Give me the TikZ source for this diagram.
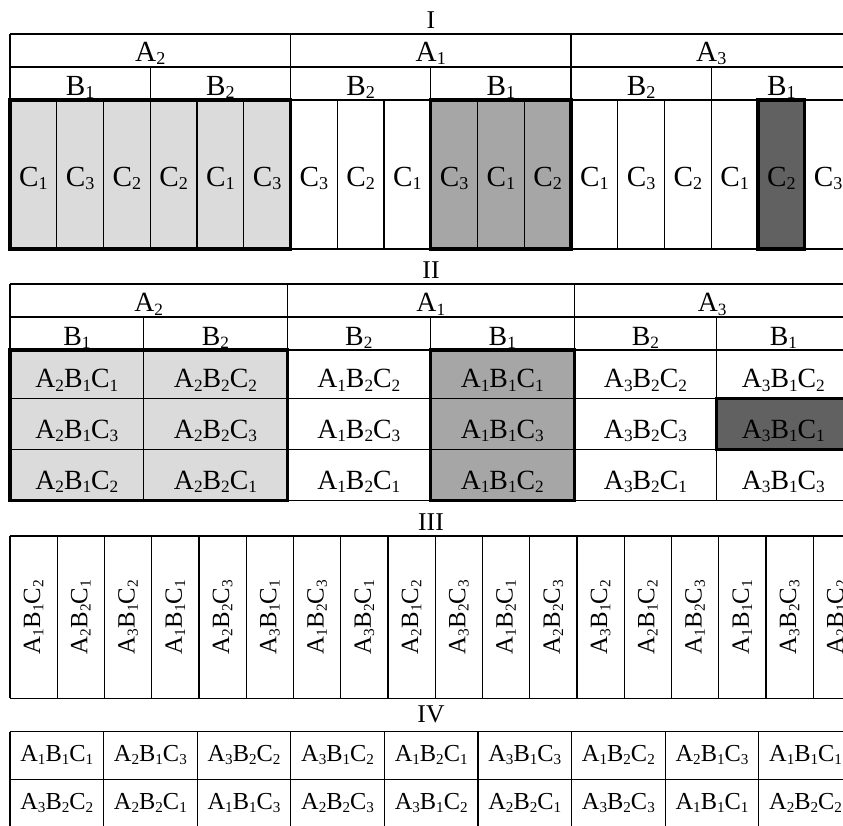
\documentclass[tikz,border=0pt]{standalone}
\usepackage{fontspec}
\usepackage{graphicx}
\setmainfont{Liberation Serif}
\newcommand{\fs}[1]{\fontsize{#1}{#1}\selectfont}
\newcommand{\idx}[1]{\raisebox{-0.13em}{\scalebox{0.62}{#1}}}
\newcommand{\trt}[3]{A\idx{#1}B\idx{#2}C\idx{#3}}
\tikzset{
  txt/.style       = {inner sep=0pt, anchor=base},
  heading/.style   = {txt, font=\fs{12.8}},
  cellI/.style     = {txt, font=\fs{14.6}},
  cellII/.style    = {txt, font=\fs{13.9}},
  cellIII/.style   = {inner sep=0pt, rotate=90, font=\fs{12.4}},
  cellIV/.style    = {txt, font=\fs{12.2}},
  tabline/.style   = {draw=black, line width=0.55pt},
  tabframe/.style  = {draw=black, line width=1.6pt},
  lightcell/.style = {fill=black!14},
  midcell/.style   = {fill=black!35},
  darkcell/.style  = {fill=black!62}
}

\begin{document}
\begin{tikzpicture}[x=0.5pt, y=-0.5pt]
  \useasboundingbox (0,0) rectangle (843,826);
  \clip (0,0) rectangle (843,826);

  % ---- I: one column per unit ----
  \node[heading] (tI) at (431,28) {I};
  \fill[lightcell] (10,100) rectangle (290.5,249);
  \fill[midcell]   (430.75,100) rectangle (571,249);
  \fill[darkcell]  (758,100) rectangle (804.75,249);
  \foreach \y in {34,67,100,249} \draw[tabline] (10,\y) -- (860,\y);
  \draw[tabline] (10,34) -- (10,249);
  \foreach \i in {6,12} \draw[tabline] ({10+46.75*\i},34) -- ++(0,215);
  \foreach \i in {3,9,15} \draw[tabline] ({10+46.75*\i},67) -- ++(0,182);
  \foreach \i in {1,2,4,5,7,8,10,11,13,14,16,17}
    \draw[tabline] ({10+46.75*\i},100) -- ++(0,149);
  \foreach \a [count=\i from 0] in {2,1,3}
    \node[cellI] (aI-\i) at ({10+280.5*(\i+0.5)},61) {A\idx{\a}};
  \foreach \b [count=\i from 0] in {1,2,2,1,2,1}
    \node[cellI] (bI-\i) at ({10+140.25*(\i+0.5)},95) {B\idx{\b}};
  \foreach \c [count=\i from 0] in {1,3,2,2,1,3,3,2,1,3,1,2,1,3,2,1,2,3}
    \node[cellI] (cI-\i) at ({10+46.75*(\i+0.5)},186) {C\idx{\c}};
  \draw[tabframe] (10,100) rectangle (290.5,249);
  \draw[tabframe] (430.75,100) rectangle (571,249);
  \draw[tabframe] (758,100) rectangle (804.75,249);

  % ---- II: three rows per B level ----
  \node[heading] (tII) at (431,278) {II};
  \fill[lightcell] (10,350) rectangle (287.3,500.7);
  \fill[midcell]   (430.3,350) rectangle (574.3,500.7);
  \fill[darkcell]  (716.7,398.3) rectangle (860,449.3);
  \foreach \y in {284,317,350,398.3,449.3,500.7} \draw[tabline] (10,\y) -- (860,\y);
  \foreach \x in {10,287.3,574.3} \draw[tabline] (\x,284) -- (\x,500.7);
  \foreach \x in {143.7,430.3,716.7} \draw[tabline] (\x,317) -- (\x,500.7);
  \foreach \xc/\a [count=\i] in {148.65/2, 430.8/1, 712.15/3}
    \node[cellII] (aII-\i) at (\xc,311.7) {A\idx{\a}};
  \foreach \xc/\a/\b/\ca/\cb/\cc [count=\i] in
    {76.85/2/1/1/3/2, 215.5/2/2/2/3/1, 358.8/1/2/2/3/1,
     502.3/1/1/1/3/2, 645.5/3/2/2/3/1, 783.35/3/1/2/1/3}
  {
    \node[cellII] (bII-\i) at (\xc,345) {B\idx{\b}};
    \node[cellII] (pII-\i) at (\xc,387.7) {\trt{\a}{\b}{\ca}};
    \node[cellII] (qII-\i) at (\xc,438.3) {\trt{\a}{\b}{\cb}};
    \node[cellII] (rII-\i) at (\xc,489) {\trt{\a}{\b}{\cc}};
  }
  \draw[tabframe] (10,350) rectangle (287.3,500.7);
  \draw[tabframe] (430.3,350) rectangle (574.3,500.7);
  \draw[tabframe] (716.7,398.3) rectangle (860,449.3);

  % ---- III: randomised strips ----
  \node[heading] (tIII) at (431,530) {III};
  \foreach \y in {536,698.3} \draw[tabline] (10,\y) -- (860,\y);
  \foreach \i in {0,...,17} \draw[tabline] ({10+47.25*\i},536) -- ++(0,162.3);
  \foreach \a/\b/\c [count=\i from 0] in
    {1/1/2, 2/2/1, 3/1/2, 1/1/1, 2/2/3, 3/1/1, 1/2/3, 3/2/1, 2/1/2,
     3/2/3, 1/2/1, 2/2/3, 3/1/2, 2/1/2, 1/2/3, 1/1/1, 3/2/3, 2/1/2}
    \node[cellIII] (sIII-\i) at ({10+47.25*(\i+0.5)},617) {\trt{\a}{\b}{\c}};

  % ---- IV: two rows ----
  \node[heading] (tIV) at (431,722) {IV};
  \foreach \y in {731.7,779.3} \draw[tabline] (10,\y) -- (860,\y);
  \foreach \i in {0,...,9} \draw[tabline] ({10+93.6*\i},731.7) -- ++(0,100);
  \foreach \a/\b/\c [count=\i from 0] in
    {1/1/1, 2/1/3, 3/2/2, 3/1/2, 1/2/1, 3/1/3, 1/2/2, 2/1/3, 1/1/1}
    \node[cellIV] (uIV-\i) at ({10+93.6*(\i+0.5)},761) {\trt{\a}{\b}{\c}};
  \foreach \a/\b/\c [count=\i from 0] in
    {3/2/2, 2/2/1, 1/1/3, 2/2/3, 3/1/2, 2/2/1, 3/2/3, 1/1/1, 2/2/2}
    \node[cellIV] (vIV-\i) at ({10+93.6*(\i+0.5)},809) {\trt{\a}{\b}{\c}};
\end{tikzpicture}
\end{document}
